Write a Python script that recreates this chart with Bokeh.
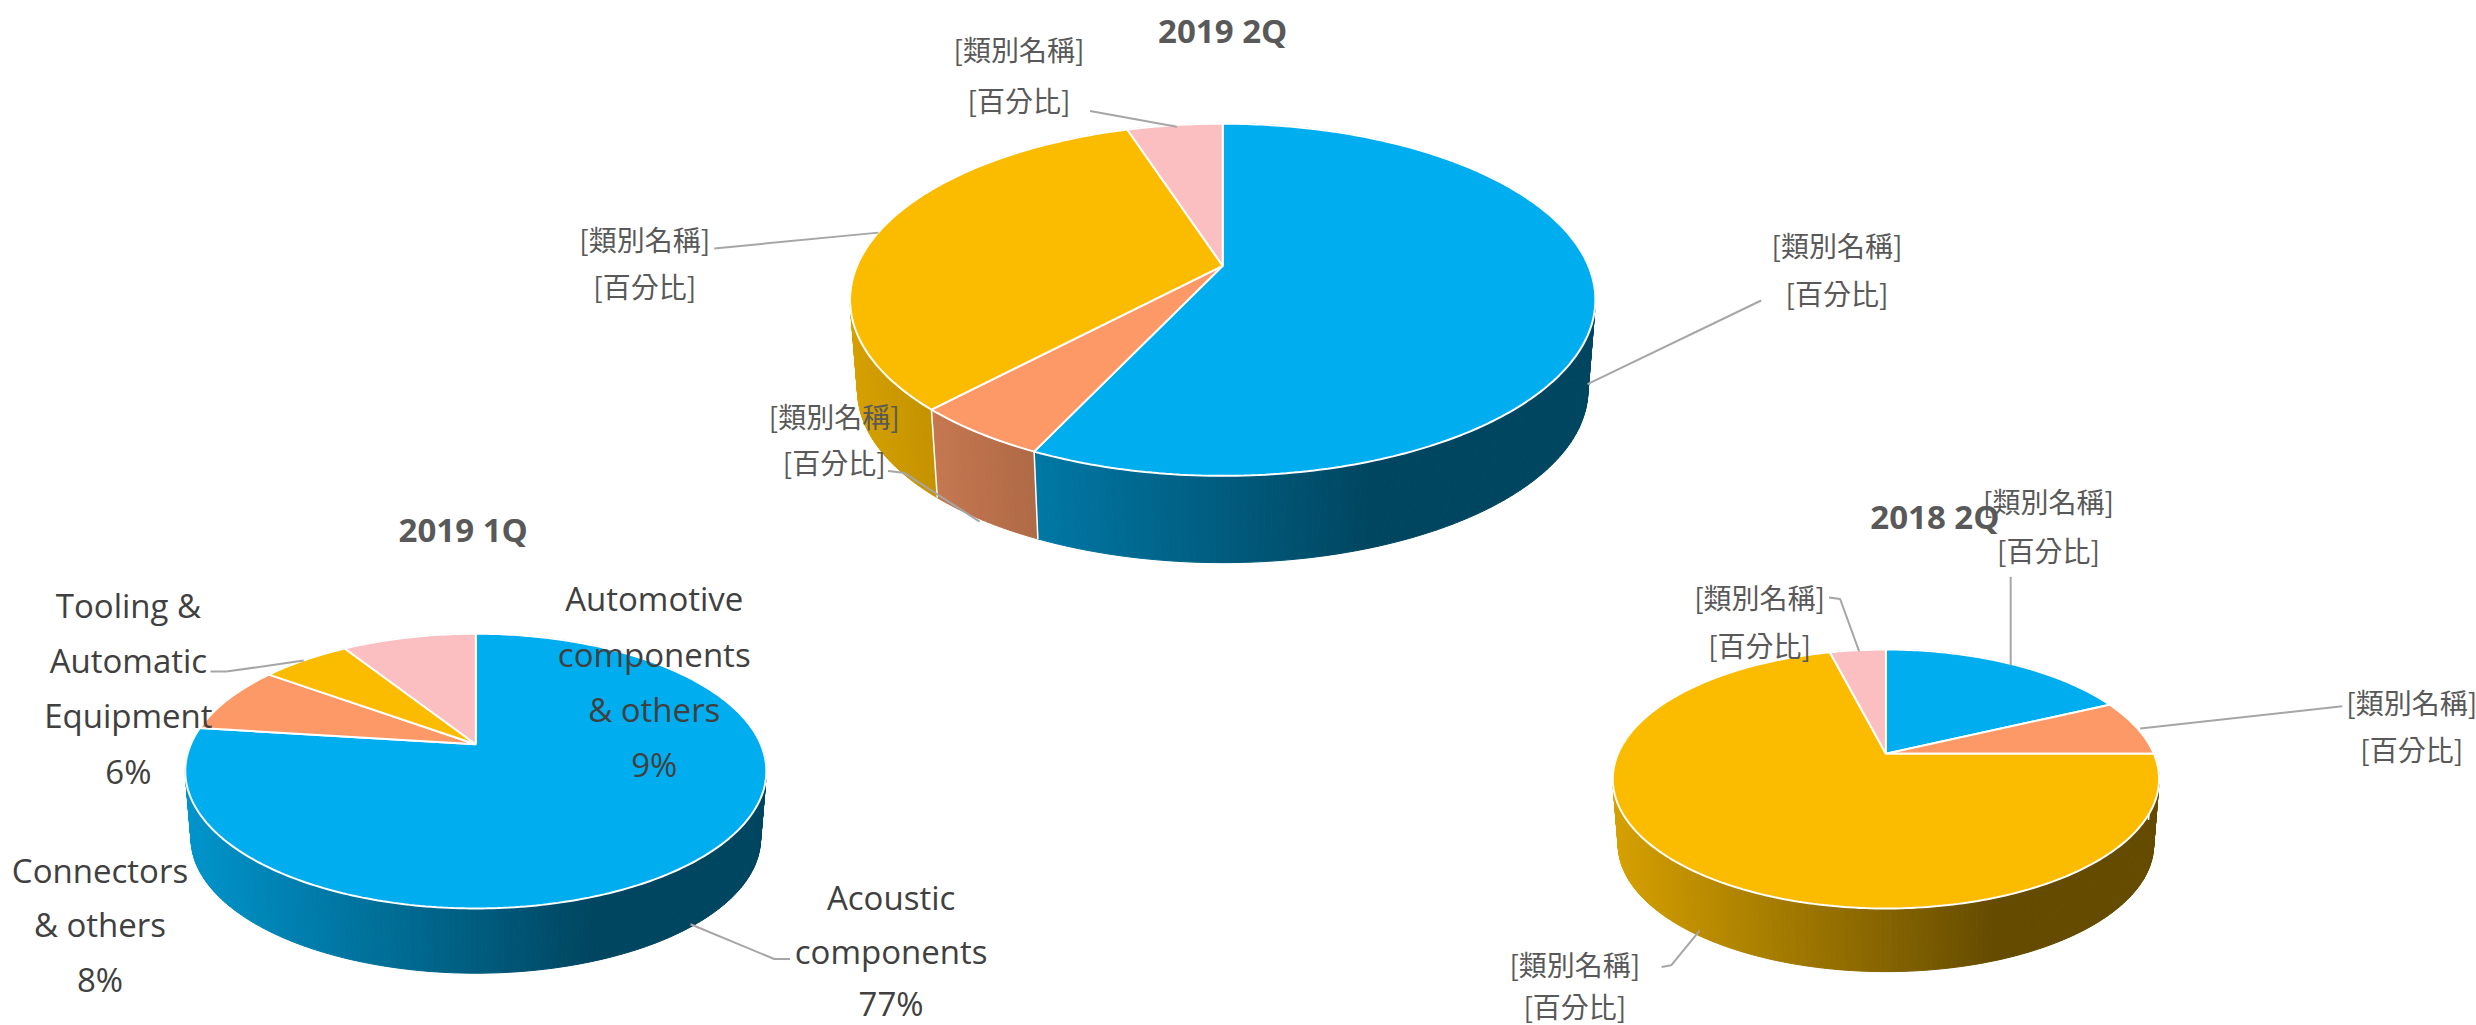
import math
from bokeh.plotting import figure
from bokeh.models import Range1d
from bokeh.core.properties import value
from bokeh.embed import file_html
from bokeh.resources import INLINE

# ---- data ----
titles = ["2019 2Q", "2019 1Q", "2018 2Q"]
values_2019_2q = [57, 5, 33, 5]
values_2019_1q = [77, 8, 6, 9]
values_2018_2q = [18, 7, 71, 4]
labels_2019_1q = ["Acoustic\ncomponents\n77%", "Connectors\n& others\n8%",
                  "Tooling &\nAutomatic\nEquipment\n6%", "Automotive\ncomponents\n& others\n9%"]
placeholder_name = "[類別名稱]"
placeholder_pct = "[百分比]"
slice_colors = ["#00AEEF", "#FD9966", "#FBBC00", "#FBBEC1"]

# ---- layout (window pixels) ----
S = 1568 / 2476  # reference overview scale
def px(v):
    return v / S

WIN_W, WIN_H = 2476, 1025
p = figure(width=WIN_W, height=WIN_H, output_backend="svg", toolbar_location=None,
           x_range=Range1d(0, WIN_W), y_range=Range1d(WIN_H, 0),
           min_border=0, outline_line_color=None, background_fill_color="white", border_fill_color="white")
p.axis.visible = False
p.grid.visible = False


def hex_rgb(c):
    return tuple(int(c[i:i + 2], 16) for i in (1, 3, 5))


def shade(c, t):
    m = 0.85 - 0.45 * min(t / 0.70, 1.0)
    return "#%02X%02X%02X" % tuple(int(round(v * m)) for v in hex_rgb(c))


def draw_pie(values, cx, cy, left, right, top, bottom, side_bottom):
    w = (right - left) / 2
    dt, db = cy - top, bottom - cy
    k = (db - dt) / (db + dt)
    b = dt * (1 + k)
    a = w * math.sqrt(1 - k * k)
    scale = 0.98
    depth = side_bottom - cy - db * scale

    def rim(theta):
        u, v = math.sin(theta), math.cos(theta)
        d = 1 + k * v
        return a * u / d, -b * v / d

    total = sum(values)
    start = 0.0
    xs_side, ys_side, cols_side = [], [], []
    xs_top, ys_top = [], []
    edge_x, edge_y = [], []
    for val, col in zip(values, slice_colors):
        sweep = val / total * 2 * math.pi
        n = max(2, int(val * 4))
        ths = [start + sweep * i / n for i in range(n + 1)]
        pts = [rim(t) for t in ths]
        for (x0, y0), (x1, y1) in zip(pts[:-1], pts[1:]):
            xs_side.append([cx + x0, cx + x1, cx + x1 * scale, cx + x0 * scale])
            ys_side.append([cy + y0, cy + y1, cy + y1 * scale + depth, cy + y0 * scale + depth])
            t = ((cx + (x0 + x1) / 2) - left) / (right - left)
            cols_side.append(shade(col, t))
        xs_top.append([cx] + [cx + q[0] for q in pts])
        ys_top.append([cy] + [cy + q[1] for q in pts])
        x0, y0 = pts[0]
        edge_x.append([cx + x0, cx + x0 * scale])
        edge_y.append([cy + y0, cy + y0 * scale + depth])
        start += sweep
    p.patches(xs_side, ys_side, fill_color=cols_side, line_color=cols_side, line_width=1)
    p.multi_line(edge_x, edge_y, line_color="white", line_width=1.5)
    p.patches(xs_top, ys_top, fill_color=slice_colors, line_color="white", line_width=2)


draw_pie(values_2019_2q, px(774), px(168), px(538), px(1010), px(78), px(301), px(356))
draw_pie(values_2019_1q, px(301), px(471), px(118), px(486), px(401), px(575), px(616))
draw_pie(values_2018_2q, px(1194), px(477), px(1021), px(1367), px(411), px(575), px(615))

# leader lines (overview coordinates)
leaders = [
    [(1115, 190), (1005, 243)],
    [(690, 70), (745, 80)],
    [(452, 157), (556, 147)],
    [(562, 298), (572, 299), (620, 330)],
    [(133, 425), (143, 425), (192, 418)],
    [(500, 607), (490, 607), (437, 585)],
    [(1273, 365), (1273, 421)],
    [(1158, 378), (1165, 379), (1177, 412)],
    [(1483, 447), (1355, 461)],
    [(1052, 612), (1058, 611), (1076, 589)],
]
p.multi_line([[px(q[0]) for q in l] for l in leaders], [[px(q[1]) for q in l] for l in leaders],
             line_color="#A6A6A6", line_width=2)


def text_block(lines, x, ys, font, size, color="#404040", style="normal"):
    p.text([px(x)] * len(lines), [px(y) for y in ys], text=lines, text_align="center",
           text_baseline="middle", text_font=value(font), text_font_size=value(size),
           text_color=color, text_font_style=style)


for title, (x, y) in zip(titles, [(774, 19), (293, 335), (1225, 327)]):
    text_block([title], x, [y], "Open Sans", "33px", "#595959", "bold")

CJK = "Noto Sans CJK TC"
for (x, y1, y2) in [(1163, 155, 185), (645, 31, 63), (408, 151, 181), (528, 263, 292),
                    (1297, 317, 348), (1114, 378, 408), (1527, 444, 474), (997, 610, 637)]:
    text_block([placeholder_name, placeholder_pct], x, [y1, y2], CJK, "28px", "#595959")

for lab, x, ys in zip(labels_2019_1q, [564, 63, 81, 414],
                      [[568, 602, 635], [551, 585, 620], [383, 418, 453, 488], [379, 414, 449, 484]]):
    text_block(lab.split("\n"), x, ys, "Open Sans", "33px")

open("out.html", "w").write(file_html(p, INLINE))
